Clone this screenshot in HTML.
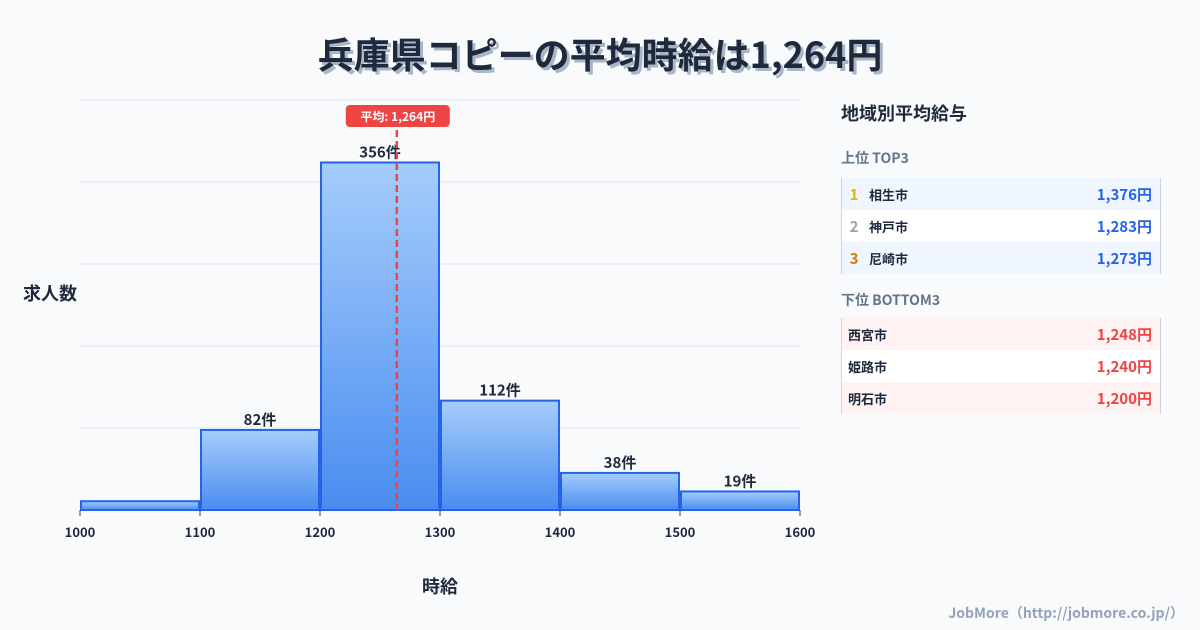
<!DOCTYPE html>
<html><head><meta charset="utf-8">
<style>
body{margin:0;width:1200px;height:630px;background:#f8fafc;font-family:"Liberation Sans","Noto Sans CJK JP",sans-serif;overflow:hidden;position:relative;color:#1e293b}
.title{position:absolute;top:27px;left:0;width:1200px;text-align:center;font-size:36px;font-weight:bold;font-family:"Noto Sans CJK JP",sans-serif;color:#1e293b;text-shadow:3px 3px 0 #a9b6c8}
.panel{position:absolute;left:841px;top:100px;width:320px;font-family:"Noto Sans CJK JP",sans-serif}
.h{font-size:18px;font-weight:bold;color:#1e293b;margin-left:0}
.sub{font-size:14px;font-weight:bold;color:#64748b;height:30px}
.tbl{border-left:1px solid #cbd5e1;border-right:1px solid #cbd5e1}
.row{height:32px;display:flex;align-items:center;font-size:13px;font-weight:bold;position:relative}
.rk{width:24px;text-align:center;font-size:15px}
.val{position:absolute;right:8px;font-size:15px}
.foot{position:absolute;right:16px;bottom:7px;font-size:14px;color:#94a3b8;font-weight:bold;font-family:"Noto Sans CJK JP",sans-serif}
</style></head><body>
<div class="title">兵庫県コピーの平均時給は1,264円</div>
<svg id="chart" width="820" height="630" style="position:absolute;left:0;top:0">
<defs><linearGradient id="g" x1="0" y1="0" x2="0" y2="1"><stop offset="0" stop-color="#a5cdfb"/><stop offset="1" stop-color="#4a8cf0"/></linearGradient></defs>
</svg>
<div class="panel">
<div class="h">地域別平均給与</div>
<div class="sub" style="margin-top:22px">上位 TOP3</div>
<div class="tbl">
<div class="row" style="background:#eff6ff"><span class="rk" style="color:#eab308">1</span>&nbsp;相生市<span class="val" style="color:#2563eb">1,376円</span></div>
<div class="row" style="background:#fff"><span class="rk" style="color:#9ca3af">2</span>&nbsp;神戸市<span class="val" style="color:#2563eb">1,283円</span></div>
<div class="row" style="background:#eff6ff"><span class="rk" style="color:#d97706">3</span>&nbsp;尼崎市<span class="val" style="color:#2563eb">1,273円</span></div>
</div>
<div class="sub" style="margin-top:16px;height:28px">下位 BOTTOM3</div>
<div class="tbl">
<div class="row" style="background:#fef2f2;padding-left:6px">西宮市<span class="val" style="color:#ef4444">1,248円</span></div>
<div class="row" style="background:#fff;padding-left:6px">姫路市<span class="val" style="color:#ef4444">1,240円</span></div>
<div class="row" style="background:#fef2f2;padding-left:6px">明石市<span class="val" style="color:#ef4444">1,200円</span></div>
</div>
</div>
<div class="foot">JobMore（http://jobmore.co.jp/）</div>
<script>
const binStarts=[1000,1100,1200,1300,1400,1500];
const counts=[9,82,356,112,38,19];
const xTicks=[1000,1100,1200,1300,1400,1500,1600];
const meanValue=1264;
const meanLabel="平均: 1,264円";
const yMax=420, yStep=84;
const NS="http://www.w3.org/2000/svg";
const svg=document.getElementById('chart');
const X=v=>80+(v-1000)*1.2;
const Y=v=>510-v*(410/yMax);
const F='Noto Sans CJK JP,sans-serif';
function mk(t,a){const e=document.createElementNS(NS,t);for(const k in a)e.setAttribute(k,a[k]);svg.appendChild(e);return e;}
for(let v=0;v<=yMax;v+=yStep){const l=mk('line',{x1:80,x2:800,y1:Y(v),y2:Y(v),stroke:'#e2e8f0','stroke-width':1});

}
binStarts.forEach((b,i)=>{
const r=mk('rect',{x:X(b)+1,y:Y(counts[i]),width:X(b+100)-X(b)-2,height:510-Y(counts[i]),fill:'url(#g)',stroke:'#2563eb','stroke-width':2});


if(counts[i]>15){const t=mk('text',{x:X(b+50),y:Y(counts[i])-5,'text-anchor':'middle','font-size':15,'font-weight':'bold',fill:'#1e293b','font-family':F});t.textContent=counts[i]+'件';

}
});
xTicks.forEach(v=>{
const l=mk('line',{x1:X(v),x2:X(v),y1:510,y2:516,stroke:'#334155'});


const t=mk('text',{x:X(v),y:537,'text-anchor':'middle','font-size':13,'font-weight':'bold',fill:'#1e293b','font-family':F});t.textContent=v;


});
const ml=mk('line',{x1:X(meanValue),x2:X(meanValue),y1:130,y2:510,stroke:'#ef4444','stroke-width':2.5,'stroke-dasharray':'7,4'});


const mb=mk('rect',{x:X(meanValue)-51,y:105,width:104,height:22,rx:4,fill:'#ef4444'});


const mt=mk('text',{x:X(meanValue)+1,y:121,'text-anchor':'middle','font-size':12,'font-weight':'bold',fill:'#fff','font-family':F});mt.textContent=meanLabel;


const yt=mk('text',{x:50,y:300,'text-anchor':'middle','font-size':18,'font-weight':'bold',fill:'#1e293b','font-family':F});yt.textContent='求人数';


const xt=mk('text',{x:440,y:593,'text-anchor':'middle','font-size':18,'font-weight':'bold',fill:'#1e293b','font-family':F});xt.textContent='時給';


</script>
</body></html>
